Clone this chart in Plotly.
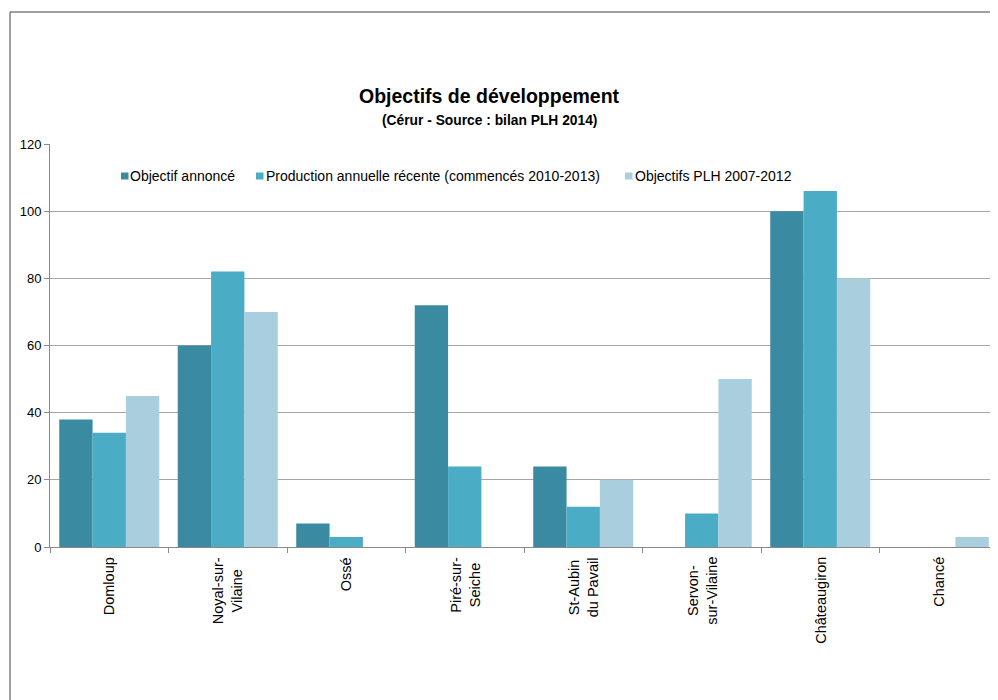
import plotly.graph_objects as go

categories = ["Domloup", "Noyal-sur-<br>Vilaine", "Ossé", "Piré-sur-<br>Seiche",
              "St-Aubin<br>du Pavail", "Servon-<br>sur-Vilaine", "Châteaugiron", "Chancé"]
objectif_annonce = [38, 60, 7, 72, 24, 0, 100, 0]
production_recente = [34, 82, 3, 24, 12, 10, 106, 0]
objectifs_plh = [45, 70, 0, 0, 20, 50, 80, 3]

series_names = ["Objectif annoncé", "Production annuelle récente (commencés 2010-2013)",
                "Objectifs PLH 2007-2012"]
series_values = [objectif_annonce, production_recente, objectifs_plh]
series_colors = ["#3A8BA2", "#4BACC6", "#A9CFDE"]

fig = go.Figure()
for name, vals, col in zip(series_names, series_values, series_colors):
    fig.add_trace(go.Bar(x=categories, y=vals, name=name,
                         marker=dict(color=col, line=dict(width=0))))

# page has an 8px body margin; work in figure pixels
W, H = 990, 692
L, R, T, B = 42, 0, 136, 153
pw, ph = W - L - R, H - T - B

def px_x(x):
    return (x - L) / pw

def px_y(y):
    return (H - B - y) / ph

FONT = "Liberation Sans, Arial, sans-serif"

legend_marker_x = [113, 248, 617]
legend_text_x = [120, 255.5, 625]
legend_y = 168
shapes = [dict(type="rect", xref="paper", yref="paper",
               x0=px_x(2), y0=px_y(760), x1=px_x(1050), y1=px_y(4),
               line=dict(color="#404040", width=1), fillcolor="rgba(0,0,0,0)", layer="below")]
annotations = [
    dict(text="<b>Objectifs de développement</b>", xref="paper", yref="paper",
         x=px_x(481), y=px_y(88), xanchor="center", yanchor="middle", showarrow=False,
         font=dict(size=19.5, family=FONT, color="#000000")),
    dict(text="<b>(Cérur - Source : bilan PLH 2014)</b>", xref="paper", yref="paper",
         x=px_x(481), y=px_y(112), xanchor="center", yanchor="middle", showarrow=False,
         font=dict(size=13.8, family=FONT, color="#000000")),
]
for name, col, mx, tx in zip(series_names, series_colors, legend_marker_x, legend_text_x):
    shapes.append(dict(type="rect", xref="paper", yref="paper",
                       x0=px_x(mx), x1=px_x(mx + 7.5), y0=px_y(legend_y + 3.5), y1=px_y(legend_y - 3.5),
                       line=dict(width=0), fillcolor=col))
    annotations.append(dict(text=name, xref="paper", yref="paper", x=px_x(tx), y=px_y(legend_y),
                            xanchor="left", yanchor="middle", showarrow=False,
                            font=dict(size=14, family=FONT, color="#000000")))

# category labels, rotated, lines centred (as in the original)
for cat in categories:
    annotations.append(dict(text=cat, xref="x", yref="y", x=cat, y=0, yshift=-9,
                            textangle=-90, xanchor="center", yanchor="top", align="center",
                            showarrow=False, borderpad=0,
                            font=dict(size=14.5, family=FONT, color="#000000")))

fig.update_layout(
    width=W, height=H,
    margin=dict(l=L, r=R, t=T, b=B),
    paper_bgcolor="white", plot_bgcolor="white",
    font=dict(family=FONT, size=13, color="#000000"),
    barmode="group", bargap=0.156, bargroupgap=0,
    showlegend=False,
    xaxis=dict(type="category", showticklabels=False, showline=True, linecolor="#8A8A8A", linewidth=1,
               ticks="outside", tickson="boundaries", ticklen=5, tickcolor="#8A8A8A",
               showgrid=False),
    yaxis=dict(range=[0, 120], dtick=20, showgrid=True, gridcolor="#A6A6A6", gridwidth=1,
               showline=True, linecolor="#8A8A8A", ticks="outside", ticklen=5, tickcolor="#8A8A8A",
               tickfont=dict(size=13, color="#000000"), zeroline=False),
    shapes=shapes,
    annotations=annotations,
)

fig.write_html("out.html")
